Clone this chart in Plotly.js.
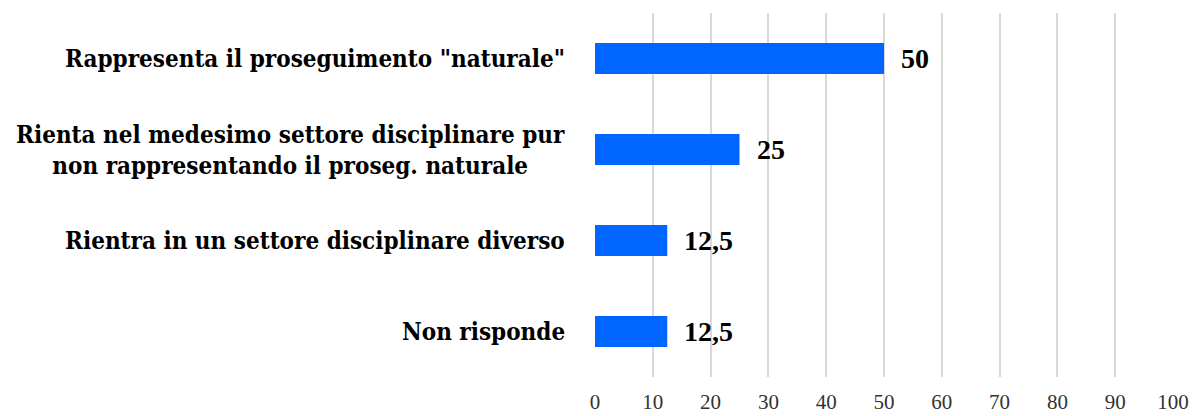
<!DOCTYPE html>
<html><head><meta charset="utf-8">
<script src="https://cdn.plot.ly/plotly-3.0.1.min.js"></script>
<style>html,body{margin:0;padding:0;background:#fff}#chart{width:1195px;height:416px}</style>
</head><body><div id="chart"></div>
<script>
const categories = [
  'Rappresenta il proseguimento "naturale"',
  'Rienta nel medesimo settore disciplinare pur<br>non rappresentando il proseg. naturale',
  'Rientra in un settore disciplinare diverso',
  'Non risponde'
];
const values = [50, 25, 12.5, 12.5];
const valueLabels = values.map(v => String(v).replace('.', ','));
const tickValues = [0,10,20,30,40,50,60,70,80,90,100];

const serif = '"Liberation Serif", "DejaVu Serif", serif';
const catFont = '"DejaVu Serif Condensed", "Liberation Serif", serif';

const trace = {
  type: 'bar', orientation: 'h',
  x: values, y: categories,
  marker: {color: '#0066FF'},
  width: 0.34,
  hoverinfo: 'none'
};

const annotations = [];
values.forEach((v, i) => {
  annotations.push({
    x: v, y: categories[i], xref: 'x', yref: 'y',
    text: '<b>' + valueLabels[i] + '</b>', showarrow: false,
    xanchor: 'left', xshift: 15,
    font: {family: serif, size: 28, color: '#000'}
  });
  annotations.push({
    x: 0, y: categories[i], xref: 'paper', yref: 'y',
    text: '<b>' + categories[i] + '</b>', showarrow: false,
    xanchor: 'right', xshift: -28, align: 'center',
    font: {family: catFont, size: 24, color: '#000'}
  });
});

const layout = {
  width: 1195, height: 416,
  margin: {l: 595, r: 22, t: 13, b: 39},
  paper_bgcolor: '#fff', plot_bgcolor: '#fff',
  showlegend: false,
  xaxis: {
    range: [0, 100], tickvals: tickValues, ticktext: tickValues.map(String),
    showgrid: true, gridcolor: '#d9d9d9', gridwidth: 2,
    zeroline: false, showline: false,
    ticks: 'outside', ticklen: 6, tickcolor: 'rgba(0,0,0,0)',
    tickfont: {family: serif, size: 21, color: '#333333'},
    fixedrange: true
  },
  yaxis: {
    autorange: 'reversed', showticklabels: false, showgrid: false,
    zeroline: false, showline: false, ticks: '', fixedrange: true
  },
  annotations: annotations
};

Plotly.newPlot('chart', [trace], layout, {displayModeBar: false, staticPlot: true});
</script></body></html>
